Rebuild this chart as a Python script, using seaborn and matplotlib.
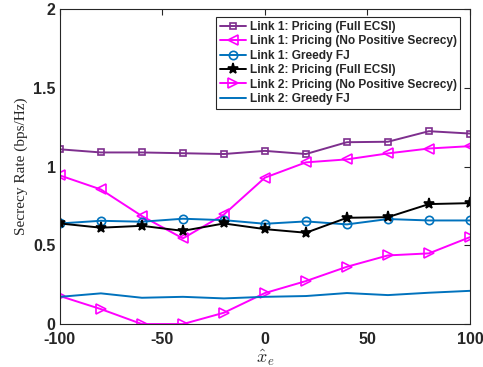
import matplotlib
matplotlib.use("Agg")
import matplotlib.pyplot as plt
import seaborn as sns
import pandas as pd

x = [-100, -80, -60, -40, -20, 0, 20, 40, 60, 80, 100]
link1_full = [1.11, 1.09, 1.09, 1.085, 1.08, 1.10, 1.08, 1.155, 1.158, 1.225, 1.21]
link1_nopos = [0.944, 0.855, 0.686, 0.544, 0.696, 0.93, 1.027, 1.046, 1.084, 1.115, 1.13]
link1_greedy = [0.639, 0.656, 0.65, 0.669, 0.66, 0.637, 0.652, 0.633, 0.667, 0.658, 0.658]
link2_full = [0.639, 0.612, 0.624, 0.592, 0.639, 0.603, 0.58, 0.675, 0.679, 0.762, 0.768]
link2_nopos = [0.178, 0.095, 0.0, 0.0, 0.072, 0.197, 0.273, 0.364, 0.436, 0.449, 0.552]
link2_greedy = [0.173, 0.195, 0.167, 0.173, 0.163, 0.173, 0.178, 0.197, 0.184, 0.199, 0.211]

labels = ["Link 1: Pricing (Full ECSI)", "Link 1: Pricing (No Positive Secrecy)",
          "Link 1: Greedy FJ", "Link 2: Pricing (Full ECSI)",
          "Link 2: Pricing (No Positive Secrecy)", "Link 2: Greedy FJ"]
series = [link1_full, link1_nopos, link1_greedy, link2_full, link2_nopos, link2_greedy]
colors = ["#7E2F8E", "#FF00FF", "#0072BD", "#000000", "#FF00FF", "#0072BD"]
markers = ["s", "<", "o", "*", ">", None]
msizes = [5, 6.5, 6, 8, 6.5, 0]
faces = ["none", "none", "none", "#000000", "none", "none"]

sns.set_style("white")
plt.rcParams['font.family'] = ['Liberation Sans', 'DejaVu Sans']
plt.rcParams['mathtext.fontset'] = 'cm'

fig = plt.figure(figsize=(4.83, 3.67), dpi=100)
ax = fig.add_axes([0.124, 0.117, 0.849, 0.858])

for lab, ys, c, m, ms, fc in zip(labels, series, colors, markers, msizes, faces):
    df = pd.DataFrame({"x": x, "y": ys})
    kw = dict(marker=m, markersize=ms, markerfacecolor=fc, markeredgecolor=c,
              markeredgewidth=1.2) if m else {}
    sns.lineplot(data=df, x="x", y="y", ax=ax, color=c, linewidth=1.4, label=lab, **kw)

ax.set_xlim(-100, 100)
ax.set_ylim(0, 2)
ax.set_xticks([-100, -50, 0, 50, 100])
ax.set_yticks([0, 0.5, 1, 1.5, 2])
ax.set_xticklabels(["-100", "-50", "0", "50", "100"])
ax.set_yticklabels(["0", "0.5", "1", "1.5", "2"])
ax.tick_params(direction="in", length=4, top=True, right=True, width=0.8,
               labelsize=11.5, colors="#262626")
ax.tick_params(axis="x", pad=6)
ax.tick_params(axis="y", pad=3)
for t in ax.get_xticklabels() + ax.get_yticklabels():
    t.set_fontweight("bold")
for s in ax.spines.values():
    s.set_color("#262626")
    s.set_linewidth(0.8)

ax.set_xlabel(r"$\hat{x}_e$", fontsize=13, color="#262626", labelpad=0)
ax.set_ylabel("Secrecy Rate (bps/Hz)", fontsize=11, family=["Liberation Serif"], color="#262626")

leg = ax.legend(loc="upper right", bbox_to_anchor=(0.985, 0.985), prop={"weight": "bold", "size": 8.6},
                frameon=True, fancybox=False, edgecolor="#262626", framealpha=1,
                handlelength=2.2, handletextpad=0.3, labelspacing=0.2, borderpad=0.3,
                borderaxespad=0.3)
leg.get_frame().set_linewidth(0.8)

fig.savefig("out.png", dpi=100)
